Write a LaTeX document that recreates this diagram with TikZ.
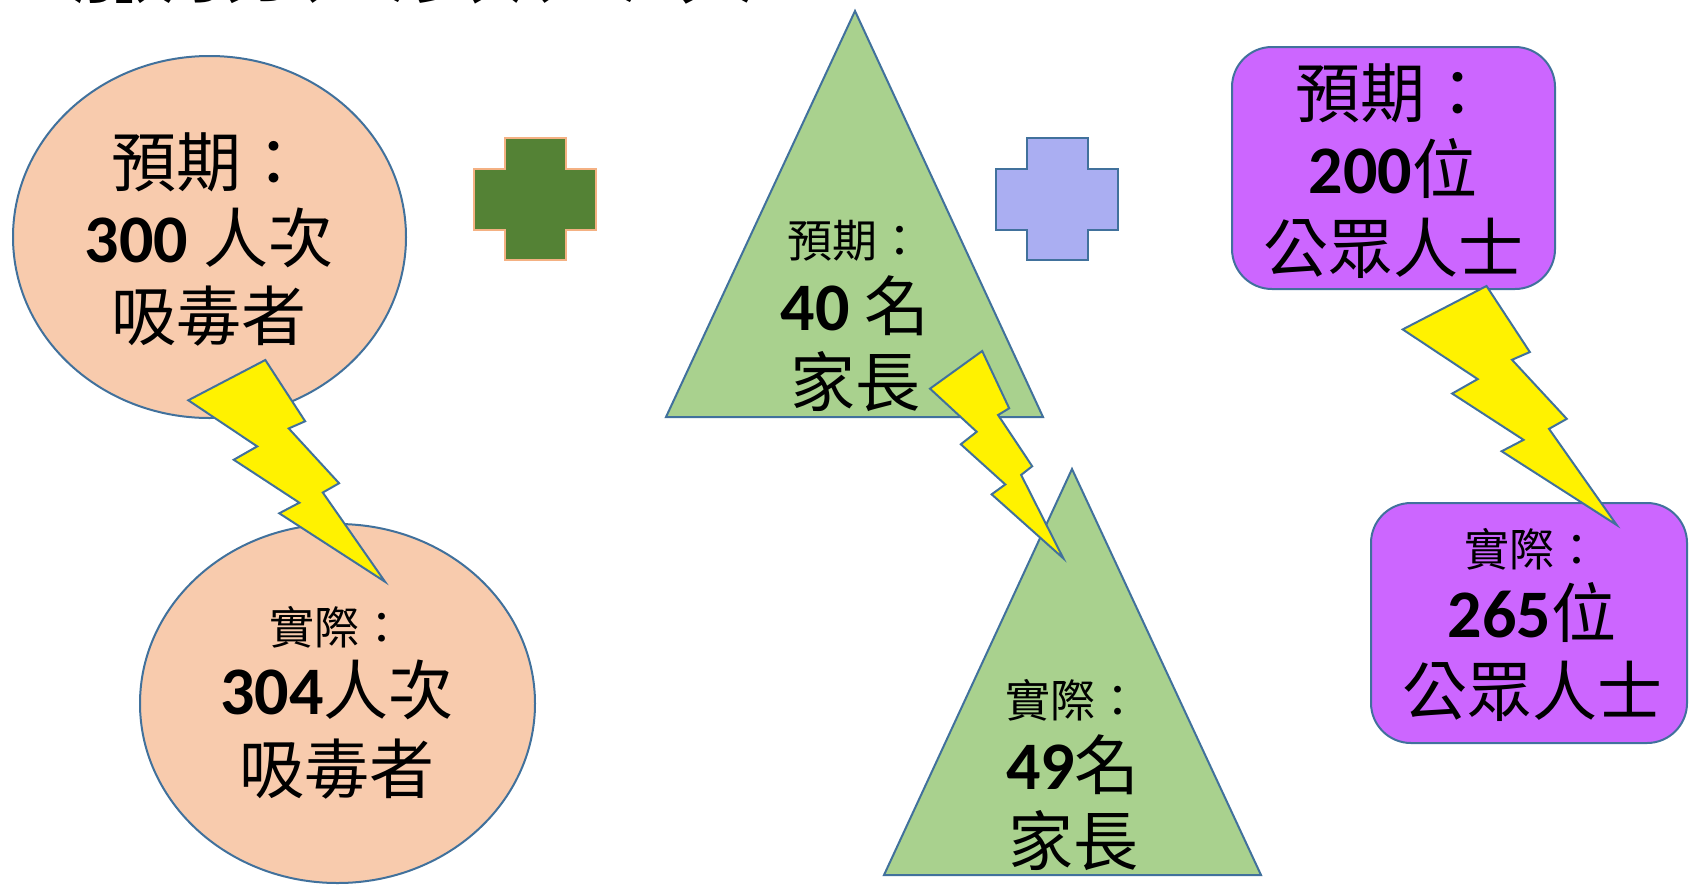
\documentclass[tikz,border=0pt]{standalone}
\usepackage{fontspec}
\setmainfont{Carlito}
\newfontfamily\cjk{Noto Sans CJK TC}
\usepackage{tikz}
\definecolor{peach}{HTML}{F8CBAD}
\definecolor{edgeblue}{HTML}{41719C}
\definecolor{leaf}{HTML}{A9D18E}
\definecolor{moss}{HTML}{548235}
\definecolor{apricot}{HTML}{F4B183}
\definecolor{lavender}{HTML}{AAAEF2}
\definecolor{orchid}{HTML}{CC66FF}

% bold figures in the big lines
\newcommand\numb[1]{{\fontsize{34}{34}\selectfont\bfseries #1}}
% lightning bolt in the box x, y, width, height (pixels, y down)
\newcommand\bolt[4]{%
  \draw[boltline] ({#1+0.3916*#3},{#2})
    -- ({#1},{#2+0.1816*#4})
    -- ({#1+0.3502*#3},{#2+0.3896*#4})
    -- ({#1+0.2312*#3},{#2+0.45*#4})
    -- ({#1+0.5647*#3},{#2+0.6437*#4})
    -- ({#1+0.4624*#3},{#2+0.6914*#4})
    -- ({#1+#3},{#2+#4})
    -- ({#1+0.6837*#3},{#2+0.5977*#4})
    -- ({#1+0.7666*#3},{#2+0.5559*#4})
    -- ({#1+0.5107*#3},{#2+0.3087*#4})
    -- ({#1+0.5940*#3},{#2+0.2763*#4})
    -- cycle;}
% plus sign, corner x, y and size s
\newcommand\plussign[4]{%
  \draw[#1] ({#2+#4/4},{#3}) -- ({#2+3*#4/4},{#3}) -- ({#2+3*#4/4},{#3+#4/4})
    -- ({#2+#4},{#3+#4/4}) -- ({#2+#4},{#3+3*#4/4}) -- ({#2+3*#4/4},{#3+3*#4/4})
    -- ({#2+3*#4/4},{#3+#4}) -- ({#2+#4/4},{#3+#4}) -- ({#2+#4/4},{#3+3*#4/4})
    -- ({#2},{#3+3*#4/4}) -- ({#2},{#3+#4/4}) -- ({#2+#4/4},{#3+#4/4}) -- cycle;}

\begin{document}
\begin{tikzpicture}[x=0.5pt,y=-0.5pt,
    outlined/.style={draw=edgeblue,line width=1pt},
    boltline/.style={draw=edgeblue,fill=yellow,line width=1pt},
    big/.style={anchor=base,inner sep=0pt,font=\fontsize{32.5}{32.5}\selectfont},
    small/.style={anchor=base,inner sep=0pt,font=\fontsize{22.5}{22.5}\selectfont\cjk},
    title/.style={anchor=base west,inner sep=0pt,font=\fontsize{58}{58}\selectfont\cjk\bfseries}]
    \useasboundingbox (0,0) rectangle (1690,884);
    \node[title] (head) at (64,-8) {服務人數人次};

    \fill[peach,outlined] (209.5,237) ellipse [x radius=196.5,y radius=181];
    \fill[peach,outlined] (337.5,703.5) ellipse [x radius=197.5,y radius=179.5];
    \fill[leaf,outlined] (855,11) -- (1043,417) -- (666,417) -- cycle;
    \fill[leaf,outlined] (1072,469) -- (1261,875) -- (884,875) -- cycle;
    \fill[orchid,outlined,rounded corners=20pt] (1232,47) rectangle (1555,289);
    \fill[orchid,outlined,rounded corners=20pt] (1371,503) rectangle (1687,743);
    \plussign{fill=moss,draw=apricot,line width=1pt}{474}{138}{122}
    \plussign{fill=lavender,outlined}{996}{138}{122}

    \node[big] (planA1) at (209,186) {\cjk 預期：};
    \node[big] (planA2) at (209,262) {\numb{300} \cjk 人次};
    \node[big] (planA3) at (209,340) {\cjk 吸毒者};
    \node[small] (realA1) at (337,644) {實際：};
    \node[big] (realA2) at (337,714) {\numb{304}\cjk 人次};
    \node[big] (realA3) at (337,793) {\cjk 吸毒者};

    \node[small] (planB1) at (855,257) {預期：};
    \node[big] (planB2) at (855,330) {\numb{40} \cjk 名};
    \node[big] (planB3) at (855,406) {\cjk 家長};
    \node[small] (realB1) at (1073,717) {實際：};
    \node[big] (realB2) at (1073,789) {\numb{49}\cjk 名};
    \node[big] (realB3) at (1073,865) {\cjk 家長};

    \node[big] (planC1) at (1393,117) {\cjk 預期：};
    \node[big] (planC2) at (1393,193) {\numb{200}\cjk 位};
    \node[big] (planC3) at (1393,272) {\cjk 公眾人士};
    \node[small] (realC1) at (1532,566) {實際：};
    \node[big] (realC2) at (1532,637) {\numb{265}\cjk 位};
    \node[big] (realC3) at (1532,715) {\cjk 公眾人士};

    \bolt{188.3}{360}{196.7}{221.7}
    \bolt{930}{351}{133.3}{207.3}
    \bolt{1402.7}{286}{214}{239}
\end{tikzpicture}
\end{document}
